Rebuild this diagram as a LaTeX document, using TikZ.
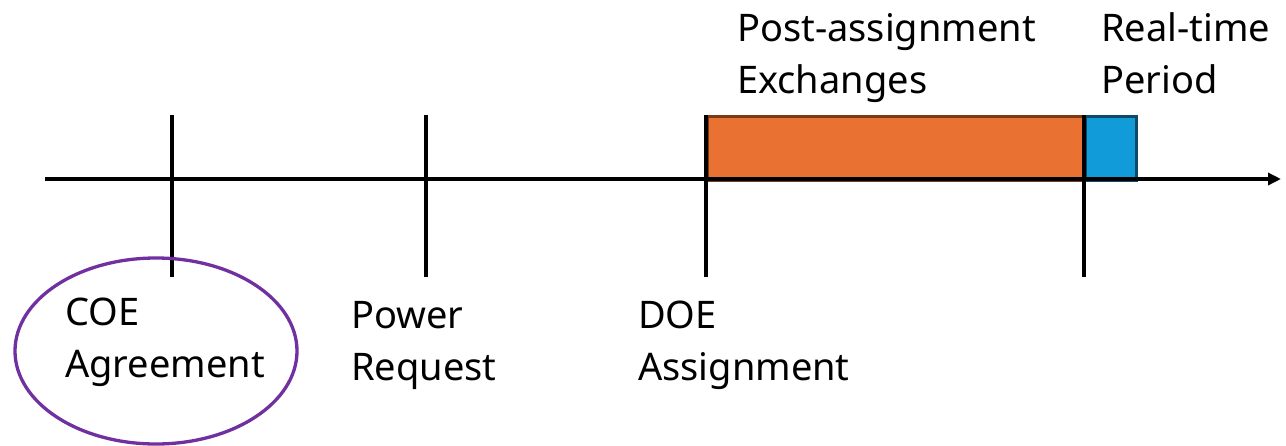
\documentclass[tikz,border=0pt]{standalone}
\usepackage{fontspec}
\setmainfont{Noto Sans}
\usetikzlibrary{arrows.meta,shapes.geometric}
\definecolor{barorange}{HTML}{E97132}
\definecolor{barorangeedge}{HTML}{7A3A14}
\definecolor{barblue}{HTML}{119BD8}
\definecolor{barblueedge}{HTML}{0E4A66}
\definecolor{circlepurple}{HTML}{7030A0}
\begin{document}
\begin{tikzpicture}[x=1pt,y=-1pt,
  axisline/.style={line width=3.3pt,black},
  tick/.style={line width=3.3pt,black},
  label/.style={anchor=base west,inner sep=0pt,font=\fontsize{38}{52}\selectfont,align=left},
  period/.style={line width=3.3pt}]
\useasboundingbox (0,0) rectangle (1286,445);
\fill[white] (0,0) rectangle (1286,445);
% periods on the time line
\node[draw=barorangeedge,fill=barorange,period,inner sep=0pt,minimum width=378pt,minimum height=64pt,anchor=north west] (post) at (706,115) {};
\node[draw=barblueedge,fill=barblue,period,inner sep=0pt,minimum width=51pt,minimum height=64pt,anchor=north west] (rt) at (1084,115) {};
% time axis
\coordinate (start) at (45,179);
\coordinate (end) at (1281,179);
\draw[axisline,-{Triangle[length=13pt,width=12pt]}] (start) -- (end);
% milestone ticks
\foreach \n/\x in {coe/172,power/426,doe/706,rtstart/1084}{
  \coordinate (\n-top) at (\x,115);
  \coordinate (\n-bot) at (\x,277);
  \draw[tick] (\n-top) -- (\n-bot);
}
% labels (anchored at the baseline of their last line)
\node[label] (coe) at (65,377) {COE\\Agreement};
\node[label] (power) at (351,380) {Power\\Request};
\node[label] (doe) at (638,380) {DOE\\Assignment};
\node[label] (postlbl) at (737,93) {Post-assignment\\Exchanges};
\node[label] (rtlbl) at (1101,93) {Real-time\\Period};
% highlight
\node[draw=circlepurple,line width=3.3pt,ellipse,minimum width=282pt,minimum height=186pt,inner sep=0pt] (hl) at (156,351) {};
\end{tikzpicture}
\end{document}
